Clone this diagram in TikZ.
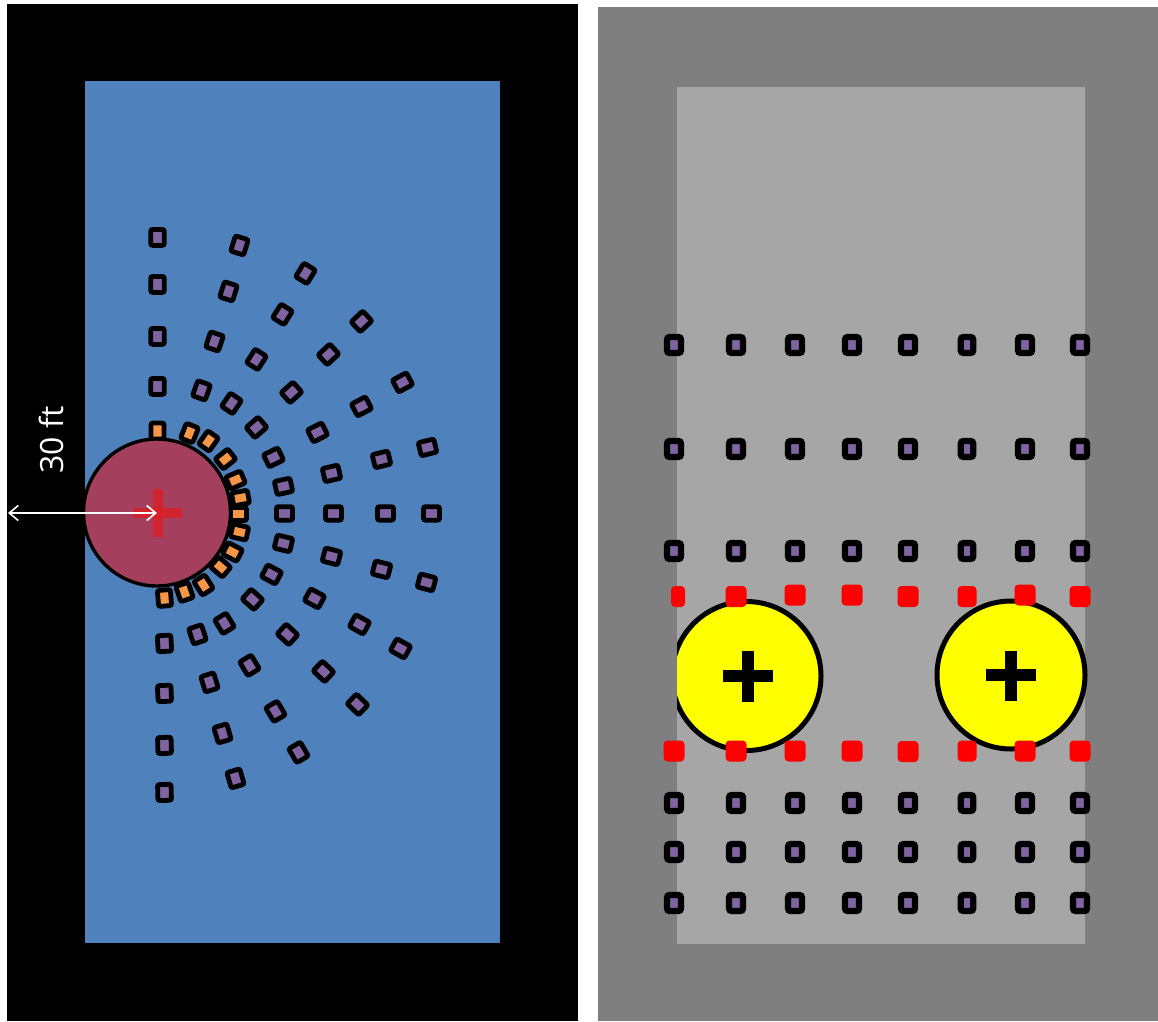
\documentclass[tikz,border=0pt]{standalone}
\usepackage{fontspec}
\usetikzlibrary{arrows.meta}
\setmainfont{Open Sans}
\definecolor{bluefill}{HTML}{4F81BD}
\definecolor{purplefill}{HTML}{8064A2}
\definecolor{orangefill}{HTML}{F79646}
\definecolor{roseFill}{HTML}{A43F5E}
\definecolor{redplus}{HTML}{DC1F26}
\definecolor{greyouter}{HTML}{7F7F7F}
\definecolor{greyinner}{HTML}{A6A6A6}
\definecolor{wellyellow}{HTML}{FFFF00}
\definecolor{markred}{HTML}{FF0000}
\tikzset{
  x=1pt,y=-1pt,
  marker/.style={draw=black,line width=4.8pt,rounded corners=2pt,minimum width=13.5pt,minimum height=16pt,inner sep=0pt,outer sep=0pt},
  pmark/.style={marker,fill=purplefill},
  omark/.style={marker,fill=orangefill,minimum width=13pt,minimum height=16pt},
  gmark/.style={draw=black,line width=6.2pt,rounded corners=2.5pt,fill=purplefill,minimum width=14pt,minimum height=16pt,inner sep=0pt,outer sep=0pt},
  rmark/.style={fill=markred,rounded corners=4pt,minimum width=21pt,minimum height=21pt,inner sep=0pt,outer sep=0pt},
  well/.style={circle,draw=black,inner sep=0pt,outer sep=0pt},
}
\begin{document}
\begin{tikzpicture}
\useasboundingbox (0,0) rectangle (1158,1021);
\fill[white] (0,0) rectangle (1158,1021);
% left panel
\fill[black] (7,4) rectangle (578,1021);
\fill[bluefill] (85,81) rectangle (500,943);
\coordinate (wellA) at (157,513);
\foreach \px/\py [count=\i] in {157/431,189/433,208/441,225/459,235/480,240/498,238/514,239/532,232/552,220/567,203/585,184/592,164/598}{
  \pgfmathsetmacro{\ang}{atan2(513-\py,\px-157)-90}
  \node[omark,rotate=\ang] (o\i) at (\px+0.5,\py) {};
}
\foreach \px/\py [count=\i] in {157/237,157/284,157/336,157/386,239/245,228/291,214/341,201/390,305/273,282/314,256/359,231/403,361/321,328/354,291/392,256/427,402/382,361/406,317/432,273/457,427/447,381/459,331/473,283/486,431/513,385/513,333/513,284/513,426/582,381/569,331/556,283/543,400/648,359/624,314/598,271/574,357/704,323/671,287/634,252/599,298/752,275/711,249/665,224/623,235/778,222/733,209/682,197/634,164/792,164/745,164/693,164/643}{
  \pgfmathsetmacro{\ang}{atan2(513-\py,\px-157)-90}
  \node[pmark,rotate=\ang] (p\i) at (\px+0.5,\py+0.4) {};
}
\node[well,fill=roseFill,line width=3.4pt,minimum size=147pt] (circA) at (157,512.5) {};
\fill[redplus,opacity=.8] (133,508) rectangle (182,518);
\fill[redplus,opacity=.8] (153,489) rectangle (163,537);
\coordinate (arrowL) at (8,513);
\draw[white,line width=1.6pt,{Straight Barb[length=9pt,width=15pt]}-{Straight Barb[length=9pt,width=15pt]}] (arrowL) -- (wellA);
\node[white,font=\fontsize{32}{32}\selectfont,rotate=90,inner sep=0pt] (dist) at (51,440) {30 ft};
% right panel
\fill[greyouter] (598,7) rectangle (1158,1021);
\fill[greyinner] (677,87) rectangle (1085,944);
\begin{scope}
\clip (677,0) rectangle (1158,1021);
\node[well,fill=wellyellow,line width=5pt,minimum size=149pt] (circB) at (746.5,676) {};
\end{scope}
\node[well,fill=wellyellow,line width=5pt,minimum size=148pt] (circC) at (1011,675) {};
\fill[black] (723,670) rectangle (773,682);
\fill[black] (742,651) rectangle (754,702);
\fill[black] (986,669) rectangle (1036,681);
\fill[black] (1005,651) rectangle (1017,701);
\foreach \ry [count=\j] in {345,449,551,803,852,903}{
  \foreach \cx/\mw [count=\i] in {674/14,736/14,795/14,852/14,908/14,967/12.5,1025/14,1080/14}{
    \node[gmark,minimum width=\mw pt] (g\j-\i) at (\cx,\ry) {};
  }
}
\foreach \cx/\mw/\ry [count=\i] in {678/14/596.5,736/21/596.5,795/21/595,852/21/595,908/21/596.5,967/19/596.5,1025/21/595,1080/21/596.5}{
  \node[rmark,minimum width=\mw pt] (rt\i) at (\cx,\ry) {};
}
\foreach \cx/\mw/\ry [count=\i] in {674/21/751,736/21/751,795/21/751,852/21/751,908/21/751.5,967/19/751,1025/21/751,1080/21/751}{
  \node[rmark,minimum width=\mw pt] (rb\i) at (\cx,\ry) {};
}
\end{tikzpicture}
\end{document}
